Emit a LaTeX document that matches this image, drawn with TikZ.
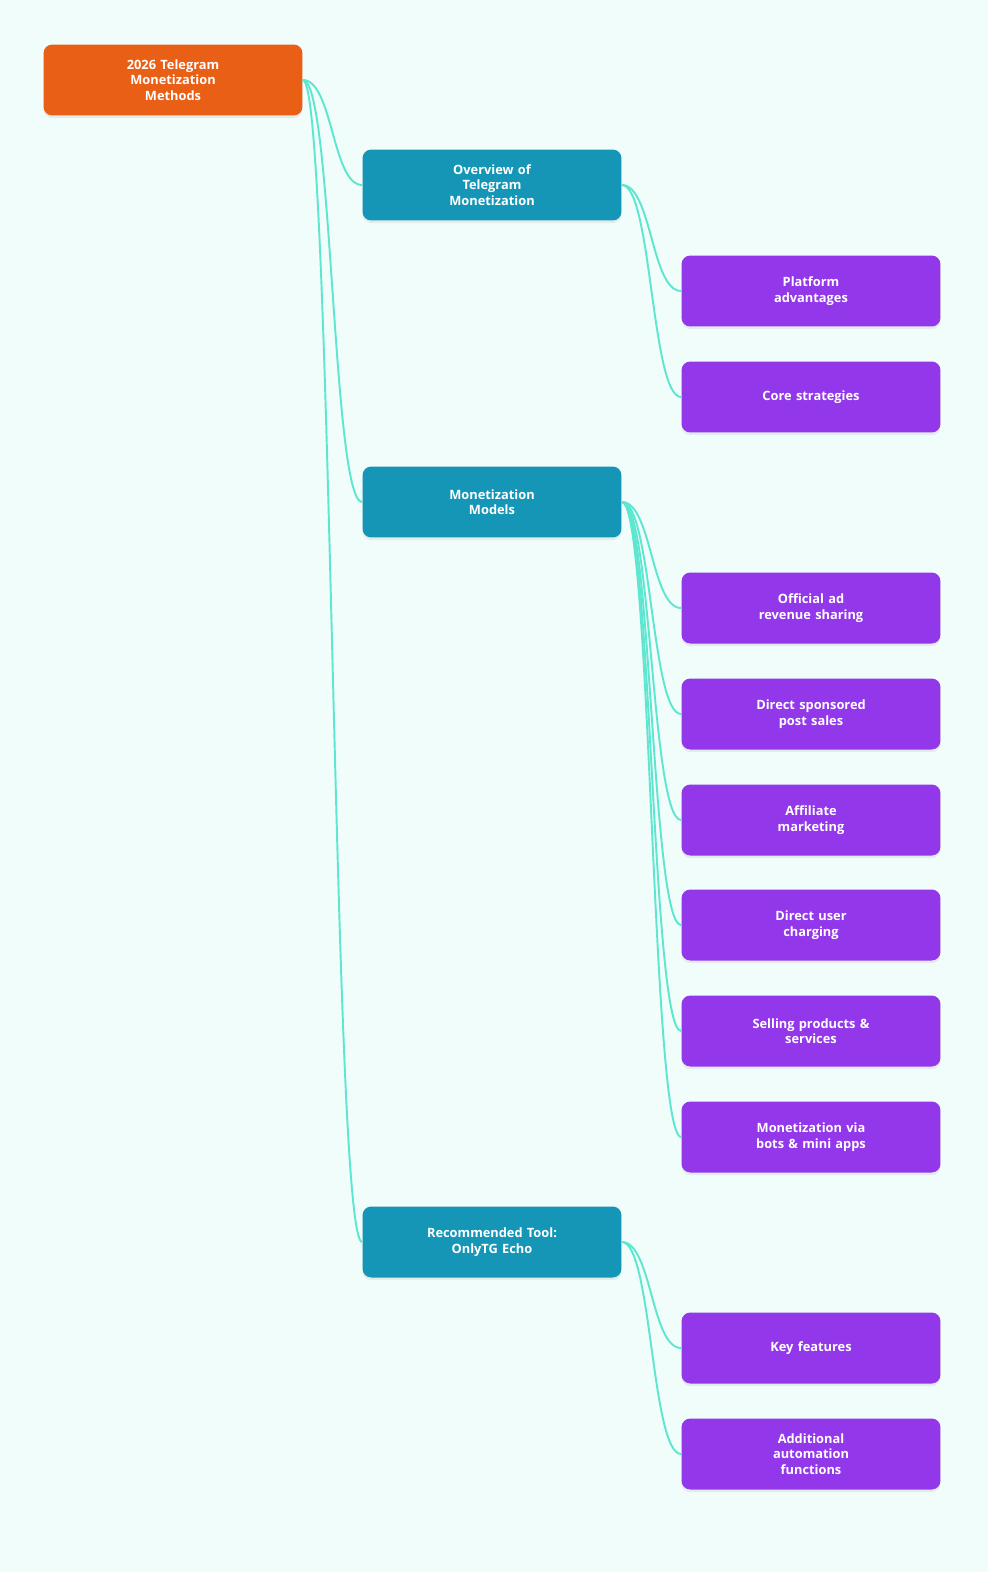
\documentclass[tikz,border=0pt]{standalone}
\usepackage{fontspec}
\setmainfont{Open Sans}
\usetikzlibrary{positioning,shadows}
\definecolor{bgc}{HTML}{F0FDFA}
\definecolor{rootc}{HTML}{EA5F16}
\definecolor{midc}{HTML}{1696B6}
\definecolor{leafc}{HTML}{9337EA}
\definecolor{linkc}{HTML}{5EE6D0}
\begin{document}
\begin{tikzpicture}[
    x=0.02cm, y=-0.02cm,
    every node/.style={font=\fontsize{7.3pt}{8.8pt}\selectfont\bfseries, text=white},
    box/.style={rectangle, rounded corners=5pt, minimum width=5.18cm, minimum height=1.42cm, text width=2.6cm, align=center, drop shadow={opacity=0.12, shadow xshift=0pt, shadow yshift=-1.5pt}},
    root/.style={box, fill=rootc},
    mid/.style={box, fill=midc},
    leaf/.style={box, fill=leafc},
    link/.style={draw=linkc, line width=1.1pt}
]
\fill[bgc] (0,0) rectangle (988,1572);
\node[root] (top) at (173,80) {2026 Telegram\\Monetization\\Methods};

\node[mid] (over) at (492,185) {Overview of\\Telegram\\Monetization};
\node[mid] (models) at (492,502) {Monetization\\Models};
\node[mid] (tool) at (492,1242) {Recommended Tool:\\OnlyTG Echo};

\node[leaf] (adv) at (811,291) {Platform\\advantages};
\node[leaf] (core) at (811,397) {Core strategies};
\node[leaf] (ads) at (811,608) {Official ad\\revenue sharing};
\node[leaf] (spons) at (811,714) {Direct sponsored\\post sales};
\node[leaf] (affil) at (811,820) {Affiliate\\marketing};
\node[leaf] (charge) at (811,925) {Direct user\\charging};
\node[leaf] (sell) at (811,1031) {Selling products \&\\services};
\node[leaf] (bots) at (811,1137) {Monetization via\\bots \& mini apps};
\node[leaf] (feat) at (811,1348) {Key features};
\node[leaf] (auto) at (811,1454) {Additional\\automation\\functions};

\begin{scope}[on background layer/.try]
\foreach \c in {over,models,tool}
    \draw[link] (top.east) .. controls +(30,0) and +(-30,0) .. (\c.west);
\foreach \c in {adv,core}
    \draw[link] (over.east) .. controls +(30,0) and +(-30,0) .. (\c.west);
\foreach \c in {ads,spons,affil,charge,sell,bots}
    \draw[link] (models.east) .. controls +(30,0) and +(-30,0) .. (\c.west);
\foreach \c in {feat,auto}
    \draw[link] (tool.east) .. controls +(30,0) and +(-30,0) .. (\c.west);
\end{scope}
\end{tikzpicture}
\end{document}
